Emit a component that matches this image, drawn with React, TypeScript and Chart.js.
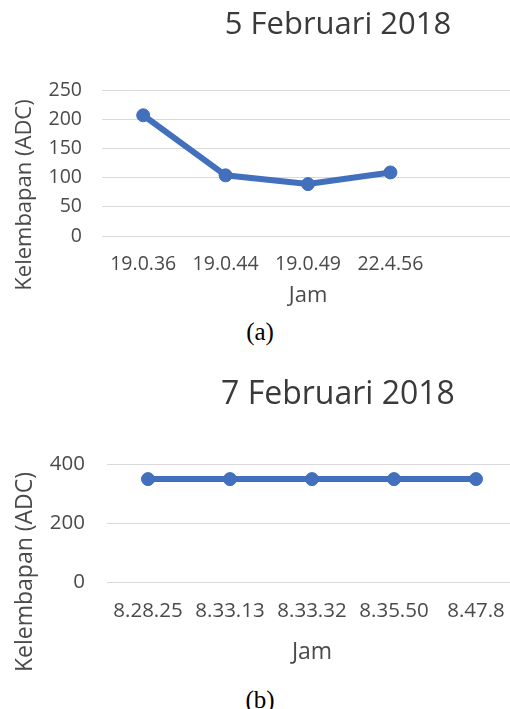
import React, { useEffect, useRef } from "react";
import { Chart, registerables } from "chart.js";

Chart.register(...registerables);

// ---------- data ----------
const titleA = "5 Februari 2018";
const labelsA = ["19.0.36", "19.0.44", "19.0.49", "22.4.56", ""];
const valuesA: (number | null)[] = [207, 104, 89, 109, null];
const yTicksA = { min: 0, max: 250, step: 50 };

const titleB = "7 Februari 2018";
const labelsB = ["8.28.25", "8.33.13", "8.33.32", "8.35.50", "8.47.8"];
const valuesB = [350, 350, 350, 350, 350];
const yTicksB = { min: 0, max: 400, step: 200 };

const yAxisTitle = "Kelembapan (ADC)";
const xAxisTitle = "Jam";
const captionA = "(a)";
const captionB = "(b)";

// ---------- styling ----------
const FONT = "'Open Sans', 'Noto Sans', sans-serif";
const LINE_COLOR = "#4270BC";
const TEXT_COLOR = "#4a4a4a";
const TITLE_COLOR = "#3a3a3a";
const GRID_COLOR = "#d9d9d9";
const CANVAS_W = 676;
const CANVAS_H = 315;

const yTitlePlugin = {
  id: "yTitleCustom",
  afterDraw(chart: any, _args: any, opts: any) {
    const ctx = chart.ctx;
    ctx.save();
    ctx.font = `${opts.size}px ${FONT}`;
    ctx.fillStyle = opts.color;
    ctx.textAlign = "center";
    ctx.textBaseline = "middle";
    ctx.translate(opts.x, opts.y);
    ctx.rotate(-Math.PI / 2);
    ctx.fillText(opts.text, 0, 0);
    ctx.restore();
  },
};

type Cfg = {
  title: string;
  labels: string[];
  values: (number | null)[];
  yTicks: { min: number; max: number; step: number };
  titleSize: number;
  titlePad: { top: number; bottom: number };
  rightWidth: number;
  yWidth: number;
  yTickPad: number;
  xHeight: number;
  xTickPad: number;
  tickSize: number;
  axisTitleSize: number;
  xTitlePadBottom: number;
  yTitlePos: { x: number; y: number };
};

function LineChart({ cfg }: { cfg: Cfg }) {
  const ref = useRef<HTMLCanvasElement | null>(null);
  useEffect(() => {
    if (!ref.current) return;
    const chart = new Chart(ref.current, {
      type: "line",
      data: {
        labels: cfg.labels,
        datasets: [
          {
            data: cfg.values,
            borderColor: LINE_COLOR,
            backgroundColor: LINE_COLOR,
            borderWidth: 6,
            pointRadius: 6.5,
            pointBackgroundColor: LINE_COLOR,
            pointBorderColor: LINE_COLOR,
            pointBorderWidth: 1,
            tension: 0,
            fill: false,
            yAxisID: "y",
          },
        ],
      },
      options: {
        responsive: false,
        animation: false,
        layout: { padding: 0 },
        plugins: {
          legend: { display: false },
          tooltip: { enabled: false },
          title: {
            display: true,
            text: cfg.title,
            color: TITLE_COLOR,
            font: { family: FONT, size: cfg.titleSize, weight: "normal" },
            padding: cfg.titlePad,
          },
          yTitleCustom: {
            text: yAxisTitle,
            size: cfg.axisTitleSize,
            color: TEXT_COLOR,
            x: cfg.yTitlePos.x,
            y: cfg.yTitlePos.y,
          },
        } as any,
        scales: {
          x: {
            type: "category",
            offset: true,
            grid: { display: false, drawTicks: false },
            border: { display: false },
            ticks: {
              color: TEXT_COLOR,
              font: { family: FONT, size: cfg.tickSize },
              padding: cfg.xTickPad,
              maxRotation: 0,
              autoSkip: false,
            },
            title: {
              display: true,
              text: xAxisTitle,
              color: TEXT_COLOR,
              font: { family: FONT, size: cfg.axisTitleSize },
              padding: { top: 0, bottom: cfg.xTitlePadBottom },
            },
            afterFit: (scale: any) => {
              scale.height = cfg.xHeight;
            },
          },
          y: {
            position: "left",
            min: cfg.yTicks.min,
            max: cfg.yTicks.max,
            grid: { color: GRID_COLOR, lineWidth: 1, drawTicks: false },
            border: { display: false },
            ticks: {
              stepSize: cfg.yTicks.step,
              color: TEXT_COLOR,
              font: { family: FONT, size: cfg.tickSize },
              padding: cfg.yTickPad,
            },
            afterFit: (scale: any) => {
              scale.width = cfg.yWidth;
            },
          },
          yRight: {
            position: "right",
            display: true,
            min: 0,
            max: 1,
            grid: { display: false, drawTicks: false },
            border: { display: false },
            ticks: { display: false },
            afterFit: (scale: any) => {
              scale.width = cfg.rightWidth;
            },
          },
        },
      },
      plugins: [yTitlePlugin],
    });
    return () => chart.destroy();
  }, [cfg]);
  return (
    <canvas
      ref={ref}
      width={CANVAS_W}
      height={CANVAS_H}
      style={{ width: CANVAS_W, height: CANVAS_H, display: "block" }}
    />
  );
}

const cfgA: Cfg = {
  title: titleA,
  labels: labelsA,
  values: valuesA,
  yTicks: yTicksA,
  titleSize: 31,
  titlePad: { top: 7, bottom: 46 },
  rightWidth: CANVAS_W - 514,
  yWidth: 102,
  yTickPad: 20,
  xHeight: CANVAS_H - 236,
  xTickPad: 17,
  tickSize: 19.5,
  axisTitleSize: 22,
  xTitlePadBottom: 6,
  yTitlePos: { x: 25, y: 195 },
};

const cfgB: Cfg = {
  title: titleB,
  labels: labelsB,
  values: valuesB,
  yTicks: yTicksB,
  titleSize: 32,
  titlePad: { top: 21, bottom: 50 },
  rightWidth: CANVAS_W - 517,
  yWidth: 107,
  yTickPad: 22,
  xHeight: CANVAS_H - 227,
  xTickPad: 17,
  tickSize: 20.5,
  axisTitleSize: 23,
  xTitlePadBottom: 4,
  yTitlePos: { x: 25, y: 217 },
};

const captionStyle: React.CSSProperties = {
  position: "absolute",
  left: 0,
  width: 520,
  textAlign: "center",
  fontFamily: "'Liberation Serif', 'Times New Roman', serif",
  fontSize: 25,
  lineHeight: "25px",
  color: "#000",
};

export default function App() {
  return (
    <div
      style={{
        position: "absolute",
        left: 0,
        top: 0,
        width: 510,
        height: 709,
        overflow: "hidden",
        background: "#fff",
      }}
    >
      <div style={{ position: "absolute", left: 0, top: 0 }}>
        <LineChart cfg={cfgA} />
      </div>
      <div style={{ ...captionStyle, top: 319 }}>{captionA}</div>
      <div style={{ position: "absolute", left: 0, top: 355 }}>
        <LineChart cfg={cfgB} />
      </div>
      <div style={{ ...captionStyle, top: 687 }}>{captionB}</div>
    </div>
  );
}
